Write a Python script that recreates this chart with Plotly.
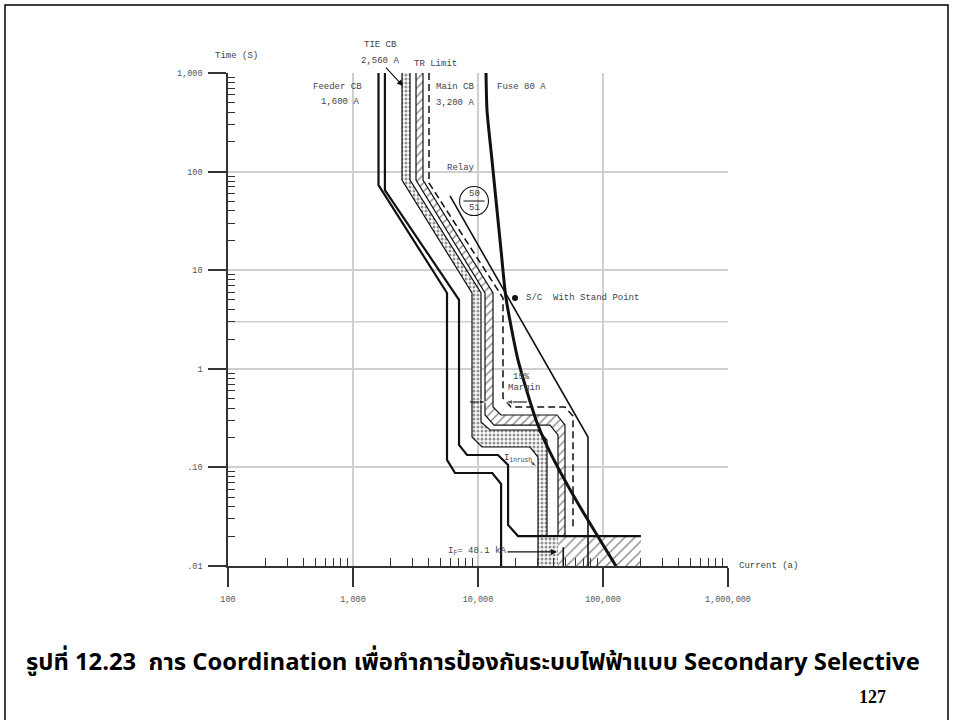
import numpy as np
import plotly.graph_objects as go

# ---------------- axis ticks ----------------
x_tick_vals = [100, 1000, 10000, 100000, 1000000]
x_tick_text = ["100", "1,000", "10,000", "100,000", "1,000,000"]
y_tick_vals = [0.01, 0.1, 1, 10, 100, 1000]
y_tick_text = [".01", ".10", "1", "10", "100", "1,000"]
x_minor_vals = [m * 10 ** d for d in range(2, 6) for m in range(2, 10)]
y_minor_vals = [m * 10.0 ** d for d in range(-2, 3) for m in range(2, 10)]

# ---------------- curves: current (A) / time (s) ----------------
# Feeder CB 1,600 A (two solid lines)
feeder_lo_I = [1600, 1600, 5650, 5650, 6550, 13000, 15300, 15300]
feeder_lo_t = [1000, 73, 5.87, 0.119, 0.0877, 0.0877, 0.0679, 0.01]
feeder_hi_I = [1800, 1800, 7050, 7050, 8170, 14450, 17400, 17400, 20900, 201000]
feeder_hi_t = [1000, 65, 5.0, 0.169, 0.1336, 0.1336, 0.1057, 0.0261, 0.0201, 0.0201]

# TIE CB 2,560 A (dotted band)
tie_lo_I = [2466, 2466, 8954, 8954, 10765, 26062, 30200, 30200]
tie_lo_t = [1000, 82.2, 5.87, 0.2034, 0.161, 0.161, 0.1275, 0.01]
tie_hi_I = [2858, 2858, 10568, 10568, 12474, 30200, 35645, 35645]
tie_hi_t = [1000, 82.2, 5.87, 0.2887, 0.2394, 0.2394, 0.1896, 0.0201]

# Main CB 3,200 A (hatched band)
main_lo_I = [3192, 3192, 11376, 11376, 13428, 37670, 43652, 43652]
main_lo_t = [1000, 82.2, 5.87, 0.340, 0.269, 0.269, 0.2133, 0.0201]
main_hi_I = [3631, 3631, 13183, 13183, 15276, 42855, 49659, 49659]
main_hi_t = [1000, 82.2, 5.87, 0.41, 0.340, 0.340, 0.269, 0.0201]

# TR limit (dashed)
tr_I = [4055, 4055, 15849, 15849, 18365, 49659, 57544, 57544]
tr_t = [1000, 76.6, 5.22, 0.5058, 0.41, 0.41, 0.3322, 0.0232]

# Relay 50/51
relay_I = [5970, 75858, 75858]
relay_t = [56.6, 0.2034, 0.01]

# Fuse 80 A
fuse_I = [11590, 11800, 12940, 13930, 15280, 16750, 20890, 29110, 36980, 60810, 127000]
fuse_t = [1000, 421, 131, 51.5, 16.0, 5.22, 1.23, 0.303, 0.150, 0.0467, 0.01]

# fault region boxes
box_dot_I = [30200, 43652]
box_hatch_I = [43652, 201000]
box_t = [0.01, 0.0201]

# I_F = 48.1 kA marker
ip_I = [48100, 48100]
ip_t = [0.01, 0.0155]

# S/C withstand point
sc_I = [19770]
sc_t = [5.22]

# 15 % margin arrows and inrush pointer
margin_left_I = [8630, 11800]
margin_right_I = [24660, 16440]
margin_t = [0.4607, 0.4607]
inrush_ptr_I = [26550, 29650]
inrush_ptr_t = [0.1135, 0.101]

LINE = "#111111"
TXT = dict(family="Liberation Mono, monospace", size=9, color="#444444")
TICKF = dict(family="Liberation Mono, monospace", size=8.5, color="#555555")

fig = go.Figure()


def add_fill(xs, ys, pattern, size, solidity):
    fig.add_trace(go.Scatter(
        x=xs, y=ys, mode="lines", fill="toself", fillcolor="white",
        line=dict(width=0), hoverinfo="skip", showlegend=False,
        fillpattern=dict(shape=pattern, size=size, solidity=solidity,
                         fgcolor="#222222", bgcolor="white")))


def add_line(xs, ys, width, dash="solid"):
    fig.add_trace(go.Scatter(
        x=xs, y=ys, mode="lines", hoverinfo="skip", showlegend=False,
        line=dict(color=LINE, width=width, dash=dash)))


def add_arrow(xs, ys, size=8):
    fig.add_trace(go.Scatter(
        x=xs, y=ys, mode="lines+markers", hoverinfo="skip", showlegend=False,
        line=dict(color=LINE, width=1.1),
        marker=dict(symbol="arrow", size=[0, size], angleref="previous", color=LINE)))


# fault-region fills
add_fill([box_dot_I[0], box_dot_I[1], box_dot_I[1], box_dot_I[0], box_dot_I[0]],
         [box_t[0], box_t[0], box_t[1], box_t[1], box_t[0]], ".", 4, 0.45)
add_fill([box_hatch_I[0], box_hatch_I[1], box_hatch_I[1], box_hatch_I[0], box_hatch_I[0]],
         [box_t[0], box_t[0], box_t[1], box_t[1], box_t[0]], "/", 7, 0.22)

# band fills
add_fill(tie_lo_I + tie_hi_I[::-1], tie_lo_t + tie_hi_t[::-1], ".", 4, 0.45)
add_fill(main_lo_I + main_hi_I[::-1], main_lo_t + main_hi_t[::-1], "/", 6, 0.25)

# edges and curves
add_line(tie_lo_I, tie_lo_t, 1.2)
add_line(tie_hi_I, tie_hi_t, 1.2)
add_line(main_lo_I, main_lo_t, 1.2)
add_line(main_hi_I, main_hi_t, 1.2)
add_line(feeder_lo_I, feeder_lo_t, 2.2)
add_line(feeder_hi_I, feeder_hi_t, 2.2)
add_line(tr_I, tr_t, 1.5, dash="7px,4px")
add_line(relay_I, relay_t, 1.6)
add_line(ip_I, ip_t, 1.6)
fig.add_trace(go.Scatter(x=fuse_I, y=fuse_t, mode="lines", hoverinfo="skip", showlegend=False,
                         line=dict(color=LINE, width=3, shape="spline", smoothing=0.6)))
fig.add_trace(go.Scatter(x=sc_I, y=sc_t, mode="markers", hoverinfo="skip", showlegend=False,
                         marker=dict(color=LINE, size=6)))
add_arrow(margin_left_I, margin_t)
add_arrow(margin_right_I, margin_t)
add_arrow(inrush_ptr_I, inrush_ptr_t, size=7)

# relay 50/51 symbol
relay_sym_I = [9290]
relay_sym_t = [50.3]
fig.add_trace(go.Scatter(x=relay_sym_I, y=relay_sym_t, mode="markers", hoverinfo="skip", showlegend=False,
                         marker=dict(symbol="circle-open", size=29, color=LINE, line=dict(width=1.1))))
fig.add_trace(go.Scatter(x=relay_sym_I, y=relay_sym_t, mode="markers", hoverinfo="skip", showlegend=False,
                         marker=dict(symbol="line-ew-open", size=15, color=LINE, line=dict(width=1, color=LINE))))

L = np.log10
ann = []


def t_data(text, I, t, xa="center", ya="middle", font=TXT):
    ann.append(dict(text=text, x=L(I), y=L(t), xref="x", yref="y", showarrow=False,
                    xanchor=xa, yanchor=ya, font=font))


def t_paper(text, px, py, xa="center", ya="middle", font=TXT):
    ann.append(dict(text=text, x=px, y=py, xref="paper", yref="paper", showarrow=False,
                    xanchor=xa, yanchor=ya, font=font))


def t_arrow(text, I, t, ax, ay):
    ann.append(dict(text=text, x=L(I), y=L(t), xref="x", yref="y", showarrow=True,
                    ax=ax, ay=ay, arrowhead=2, arrowsize=1.1, arrowwidth=1.1,
                    arrowcolor=LINE, standoff=0, font=TXT))


t_paper("Time (S)", 0.016, 1.0345)
t_paper("TIE CB", 0.304, 1.0568)
t_paper("TR Limit", 0.414, 1.0183)
t_paper("Current (a)", 1.018, 0.0, xa="left")

t_arrow("2,560 A", 2512, 738, -23, -25)
t_arrow("I<sub>F</sub>= 48.1 kA", 42850, 0.0139, -80, 0)

t_data("Feeder CB", 745, 721)
t_data("1,600 A", 790, 508)
t_data("Main CB", 4446, 721, xa="left")
t_data("3,200 A", 4446, 496, xa="left")
t_data("Fuse 80 A", 13677, 721, xa="left")
t_data("Relay", 7311, 108.8)
t_data("50", 9290, 50.3, ya="bottom")
t_data("51", 9290, 50.3, ya="top")
t_data("S/C  With Stand Point", 23335, 5.22, xa="left")
t_data("15%", 22080, 0.826)
t_data("Margin", 23335, 0.639)
t_data("I<sub>inrush</sub>", 21000, 0.1245)

# caption and page number
t_paper("<b>รูปที่ 12.23  การ Coordination เพื่อทำการป้องกันระบบไฟฟ้าแบบ Secondary Selective</b>",
        -0.408, -0.1968, xa="left",
        font=dict(family="Noto Sans Thai, Tahoma, Liberation Sans, Arial, sans-serif", size=23.8, color="black"))
t_paper("<b>127</b>", 1.32, -0.2657, xa="right",
        font=dict(family="Liberation Serif, Times New Roman, serif", size=18, color="black"))

shapes = [
    dict(type="rect", xref="paper", yref="paper", x0=-0.446, x1=1.44, y0=-0.33, y1=1.138,
         line=dict(color="black", width=1.5), fillcolor="rgba(0,0,0,0)", layer="above"),
    dict(type="line", xref="x", yref="paper", x0=L(60000), x1=L(60000), y0=0, y1=-0.04,
         line=dict(color="#333", width=1.3)),
    dict(type="line", xref="paper", yref="y", x0=0, x1=1, y0=3, y1=3,
         line=dict(color="#cfcfcf", width=1.5), layer="below"),
    dict(type="line", xref="x", yref="paper", x0=6, x1=6, y0=0, y1=1,
         line=dict(color="#cfcfcf", width=1.5), layer="below"),
]

fig.update_layout(
    width=954, height=720,
    margin=dict(l=228, r=226, t=73, b=154),
    paper_bgcolor="white", plot_bgcolor="white",
    showlegend=False,
    annotations=ann, shapes=shapes,
    xaxis=dict(type="log", range=[2, 6], tickmode="array", tickvals=x_tick_vals, ticktext=x_tick_text,
               ticks="outside", ticklen=19, tickwidth=1.5, tickcolor="#333",
               showgrid=True, gridcolor="#cfcfcf", gridwidth=1.5,
               showline=True, linecolor="#333", linewidth=2, zeroline=False,
               tickfont=TICKF, ticklabelstandoff=5, fixedrange=True,
               minor=dict(tickmode="array", tickvals=x_minor_vals, ticks="inside", ticklen=8,
                          tickwidth=1.3, tickcolor="#333", showgrid=False)),
    yaxis=dict(type="log", range=[-2, 3], tickmode="array", tickvals=y_tick_vals, ticktext=y_tick_text,
               ticks="outside", ticklen=18, tickwidth=1.5, tickcolor="#333",
               showgrid=True, gridcolor="#cfcfcf", gridwidth=1.5,
               showline=True, linecolor="#333", linewidth=1.5, zeroline=False,
               tickfont=TICKF, ticklabelstandoff=4, fixedrange=True,
               minor=dict(tickmode="array", tickvals=y_minor_vals, ticks="inside", ticklen=7,
                          tickwidth=1.3, tickcolor="#333", showgrid=False)),
)

fig.write_html("out.html", config={"displayModeBar": False})
